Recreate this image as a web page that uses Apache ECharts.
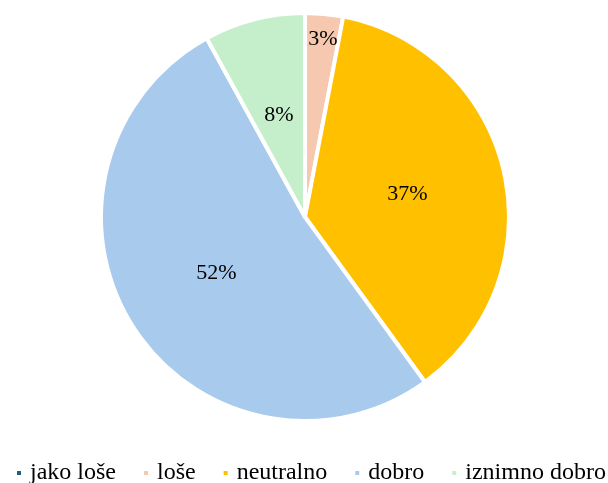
<!DOCTYPE html>
<html>
<head>
<meta charset="utf-8">
<script src="https://cdn.jsdelivr.net/npm/echarts@6/dist/echarts.min.js"></script>
<style>
  html, body { margin: 0; padding: 0; background: #fff; }
  #chart-main { width: 608px; height: 483px; }
</style>
</head>
<body>
<div id="chart-main"></div>
<script>
// kategorije i vrijednosti
const categories = ['jako loše', 'loše', 'neutralno', 'dobro', 'iznimno dobro'];
const values = [0, 3, 37, 52, 8];
const colors = ['#1F5F86', '#F5C8AF', '#FFC000', '#A8CAEC', '#C5EFCA'];

let myChart = echarts.init(document.getElementById('chart-main'));

const data = categories.map((name, i) => {
  const item = { name: name, value: values[i], itemStyle: { color: colors[i] } };
  // mali odsječak - oznaka bliže rubu
  if (name === 'loše') {
    item.label = { offset: [8, -73] };
  }
  return item;
});

let option = {
  animation: false,
  textStyle: { fontFamily: 'Liberation Serif' },
  legend: {
    top: 461,
    left: 15,
    width: 640,
    padding: 0,
    itemWidth: 6,
    itemHeight: 6,
    itemGap: 26,
    icon: 'rect',
    textStyle: {
      fontSize: 24,
      color: '#000',
      fontFamily: 'Liberation Serif',
      padding: [0, 0, 0, 3]
    },
    data: categories
  },
  series: [
    {
      type: 'pie',
      center: [305, 217],
      radius: 204,
      startAngle: 90,
      clockwise: true,
      itemStyle: { borderColor: '#fff', borderWidth: 4 },
      label: {
        position: 'inside',
        fontSize: 22,
        color: '#000',
        fontFamily: 'Liberation Serif',
        formatter: function (p) {
          return p.value ? Math.round(p.percent) + '%' : '';
        }
      },
      labelLine: { show: false },
      emphasis: { disabled: true },
      data: data
    }
  ]
};
myChart.setOption(option);
</script>
</body>
</html>
